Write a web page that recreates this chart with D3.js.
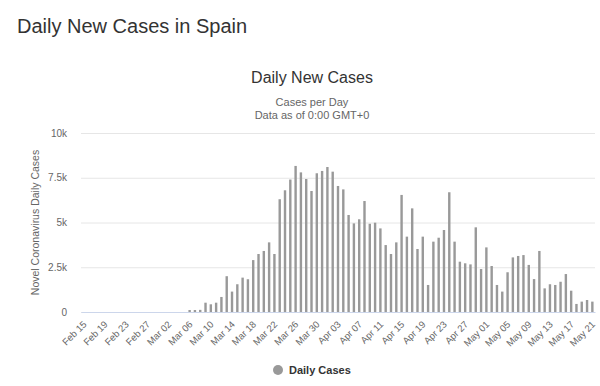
<!DOCTYPE html>
<html>
<head>
<meta charset="utf-8">
<script src="https://cdn.jsdelivr.net/npm/d3@7"></script>
<style>
  html, body { margin: 0; padding: 0; background: #fff; }
  svg { display: block; }
</style>
</head>
<body>
<svg id="chart" width="600" height="386"></svg>
<script>
// ---- data ----
const startDate = "2020-02-15";
const endDate = "2020-05-21";
const dailyCases = [
  0, 0, 0, 0, 0, 0, 0, 0, 0, 0,            // Feb 15 - Feb 24
  0, 0, 0, 0, 0,                           // Feb 25 - Feb 29
  0, 0, 0, 0, 0,                           // Mar 01 - Mar 05
  110, 110, 120,                           // Mar 06 - Mar 08
  520, 430, 520, 840, 2000, 1140, 1550, 1920, 1830, 2900, 3240, 3410, 3890, 3240,
  6300, 6800, 7400, 8160, 7800, 7430, 6760, 7750, 7880,   // Mar 09 - Mar 31
  8100, 7840, 7040, 6850, 5420, 4950, 5180, 6200, 4930, 4990, 4670, 3740, 3240, 3890,
  6540, 4210, 5790, 3520, 4210, 1510, 3930, 4150, 4580, 6690, 3930, 2810, 2720, 2660,
  4730, 2400,                              // Apr 01 - Apr 30
  3610, 2570, 1510, 1140, 2220, 3050, 3130, 3180, 2630, 1840, 3410, 1320, 1550, 1510,
  1690, 2120, 1190, 450, 580, 670, 580     // May 01 - May 21
];
const yTickValues = [0, 2500, 5000, 7500, 10000];
const yTickLabels = ["0", "2.5k", "5k", "7.5k", "10k"];
const pageTitle = "Daily New Cases in Spain";
const chartTitle = "Daily New Cases";
const subtitleLines = ["Cases per Day", "Data as of 0:00 GMT+0"];
const yAxisTitle = "Novel Coronavirus Daily Cases";
const seriesName = "Daily Cases";

// categories
const parse = d3.timeParse("%Y-%m-%d");
const fmt = d3.timeFormat("%b %d");
const categories = d3.timeDay.range(parse(startDate), d3.timeDay.offset(parse(endDate), 1)).map(fmt);
const data = categories.map((c, i) => ({ cat: c, value: dailyCases[i] }));

// ---- layout ----
const svg = d3.select("#chart");
const FONT = "'Liberation Sans', Arial, sans-serif";
const plot = { left: 81, right: 595, top: 133, bottom: 312 };

const x = d3.scaleBand().domain(categories).range([plot.left, plot.right]).paddingInner(0).paddingOuter(0);
const y = d3.scaleLinear().domain([0, 10000]).range([plot.bottom, plot.top]);

// page title
svg.append("text").attr("x", 17).attr("y", 33)
  .attr("font-family", FONT).attr("font-size", 20).attr("fill", "#333")
  .text(pageTitle);

// chart title + subtitle
svg.append("text").attr("x", 312).attr("y", 83).attr("text-anchor", "middle")
  .attr("font-family", FONT).attr("font-size", 16).attr("fill", "#333")
  .text(chartTitle);
subtitleLines.forEach((s, i) => {
  svg.append("text").attr("x", 312).attr("y", 106 + i * 13).attr("text-anchor", "middle")
    .attr("font-family", FONT).attr("font-size", 11).attr("fill", "#666")
    .text(s);
});

// y axis with gridlines
const yAxis = d3.axisLeft(y)
  .tickValues(yTickValues)
  .tickFormat((d, i) => yTickLabels[i])
  .tickSize(-(plot.right - plot.left))
  .tickPadding(14);
const gy = svg.append("g").attr("transform", `translate(${plot.left},0)`).call(yAxis);
gy.select(".domain").remove();
gy.selectAll(".tick line").attr("stroke", "#e6e6e6").attr("stroke-width", 1);
gy.selectAll(".tick text").attr("font-family", FONT).attr("font-size", 10).attr("fill", "#666");

// y axis title
svg.append("text")
  .attr("transform", `translate(39,${(plot.top + plot.bottom) / 2}) rotate(-90)`)
  .attr("text-anchor", "middle")
  .attr("font-family", FONT).attr("font-size", 10.5).attr("fill", "#666")
  .text(yAxisTitle);

// bars
const barW = 2.4;
svg.append("g").selectAll("rect").data(data).join("rect")
  .attr("x", d => x(d.cat) + x.bandwidth() / 2 - barW / 2)
  .attr("y", d => y(d.value))
  .attr("width", barW)
  .attr("height", d => y(0) - y(d.value))
  .attr("fill", "#999999");

// x axis
const xAxis = d3.axisBottom(x)
  .tickValues(categories.filter((c, i) => i % 4 === 0))
  .tickSize(0)
  .tickPadding(0);
const gx = svg.append("g").attr("transform", `translate(0,${plot.bottom})`).call(xAxis);
gx.select(".domain").attr("stroke", "#ccd6eb");
gx.selectAll(".tick text")
  .attr("font-family", FONT).attr("font-size", 9.5).attr("fill", "#666")
  .attr("text-anchor", "end")
  .attr("dy", null)
  .attr("transform", "translate(3.5,13) rotate(-45)");

// legend
svg.append("circle").attr("cx", 278).attr("cy", 370).attr("r", 5).attr("fill", "#999999");
svg.append("text").attr("x", 289).attr("y", 374)
  .attr("font-family", FONT).attr("font-size", 11).attr("font-weight", "bold").attr("fill", "#333")
  .text(seriesName);
</script>
</body>
</html>
